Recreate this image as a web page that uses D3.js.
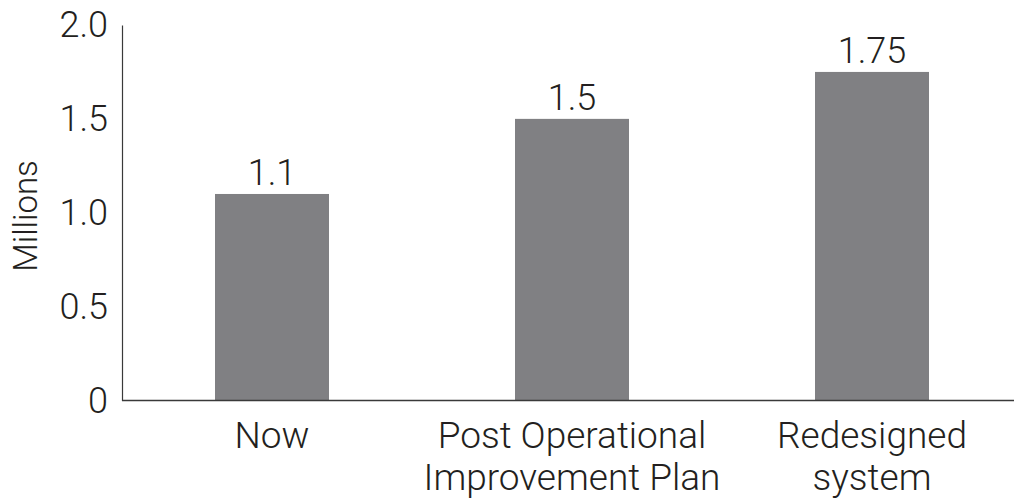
<!DOCTYPE html>
<html>
<head>
<meta charset="utf-8">
<script src="https://cdn.jsdelivr.net/npm/d3@7"></script>
<style>
  html, body { margin: 0; padding: 0; background: #fff; }
  svg text { font-family: Roboto, "Liberation Sans", sans-serif; font-weight: 300; fill: #231f20; }
</style>
</head>
<body>
<div id="chart"></div>
<script>
  // Data
  const categories = ['Now', 'Post Operational\nImprovement Plan', 'Redesigned\nsystem'];
  const values = [1.1, 1.5, 1.75];
  const valueLabels = ['1.1', '1.5', '1.75'];
  const yTicks = [0, 0.5, 1.0, 1.5, 2.0];
  const yTickLabels = ['0', '0.5', '1.0', '1.5', '2.0'];
  const yTitle = 'Millions';

  const WIDTH = 1014;
  const HEIGHT = 499;
  const margin = { top: 25, left: 122, bottom: 98.5 };

  const svg = d3
    .select('#chart')
    .append('svg')
    .attr('width', WIDTH)
    .attr('height', HEIGHT);

  const x = d3
    .scaleBand()
    .domain(categories)
    .range([margin.left, margin.left + 900])
    .paddingInner(0.62)
    .paddingOuter(0.31);

  const y = d3
    .scaleLinear()
    .domain([0, 2])
    .range([HEIGHT - margin.bottom, margin.top]);

  // bars
  svg
    .selectAll('rect.bar')
    .data(values)
    .join('rect')
    .attr('class', 'bar')
    .attr('x', (d, i) => x(categories[i]))
    .attr('y', (d) => y(d))
    .attr('width', x.bandwidth())
    .attr('height', (d) => y(0) - y(d))
    .attr('fill', '#808083');

  // value labels
  svg
    .selectAll('text.value')
    .data(values)
    .join('text')
    .attr('class', 'value')
    .attr('x', (d, i) => x(categories[i]) + x.bandwidth() / 2)
    .attr('y', (d) => y(d) - 9)
    .attr('text-anchor', 'middle')
    .attr('font-size', '36px')
    .text((d, i) => valueLabels[i]);

  // y axis
  const yAxis = svg
    .append('g')
    .attr('transform', `translate(${margin.left},0)`)
    .call(
      d3.axisLeft(y)
        .tickValues(yTicks)
        .tickFormat((d, i) => yTickLabels[i])
        .tickSize(0)
        .tickPadding(14)
    );
  yAxis.select('.domain').attr('stroke', '#3a3a3a').attr('stroke-width', 1.2);
  yAxis.selectAll('text')
    .attr('font-size', '36px')
    .attr('font-family', null)
    .attr('fill', null);

  // x axis line
  const xAxis = svg
    .append('g')
    .attr('transform', `translate(0,${y(0)})`)
    .call(d3.axisBottom(x).tickSize(0).tickFormat(''));
  xAxis.select('.domain')
    .attr('d', `M${margin.left},0H${WIDTH}`)
    .attr('stroke', '#3a3a3a')
    .attr('stroke-width', 1.5);

  // category labels
  svg
    .selectAll('text.cat')
    .data(categories)
    .join('text')
    .attr('class', 'cat')
    .attr('x', (d) => x(d) + x.bandwidth() / 2)
    .attr('y', y(0) + 47)
    .attr('text-anchor', 'middle')
    .attr('font-size', '37px')
    .selectAll('tspan')
    .data((d) => d.split('\n'))
    .join('tspan')
    .attr('x', function () { return this.parentNode.getAttribute('x'); })
    .attr('dy', (d, i) => (i === 0 ? 0 : 42))
    .text((d) => d);

  // y title
  svg
    .append('text')
    .attr('transform', `translate(37,216) rotate(-90)`)
    .attr('text-anchor', 'middle')
    .attr('font-size', '33px')
    .text(yTitle);
</script>
</body>
</html>
